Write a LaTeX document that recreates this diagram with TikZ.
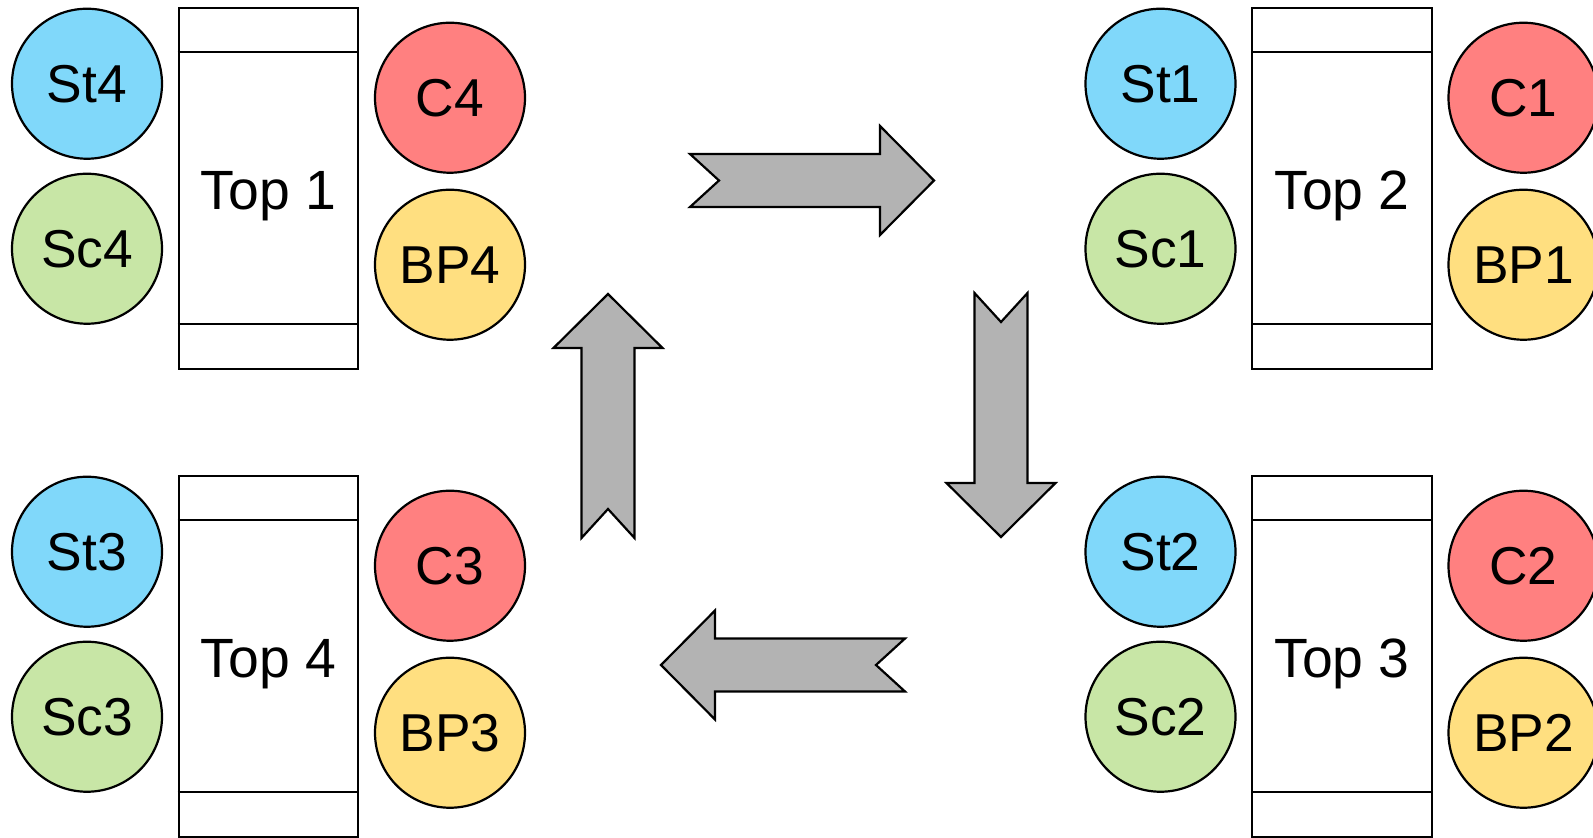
\documentclass[tikz,border=0pt]{standalone}
\usepackage{fontspec}
\setmainfont{Liberation Sans}
\usetikzlibrary{calc}

\definecolor{stblue}{HTML}{80D8FA}
\definecolor{cred}{HTML}{FF8080}
\definecolor{scgreen}{HTML}{C8E6A6}
\definecolor{bpyellow}{HTML}{FFDF80}
\definecolor{flowgray}{HTML}{B3B3B3}

\begin{document}
\begin{tikzpicture}[x=0.75pt,y=-0.75pt,line width=1.65pt,
    ball/.style={circle,draw=black,minimum size=112.5pt,inner sep=0pt,font=\fontsize{40}{44}\selectfont},
    topbox/.style={draw=black,fill=white,minimum width=134.5pt,minimum height=271pt,inner sep=0pt},
    toptext/.style={anchor=base,font=\fontsize{41.5}{45}\selectfont},
    flowarrow/.style={draw=black,fill=flowgray,line join=miter}]

    \useasboundingbox (0,0) rectangle (1593,838);

    %blocks
    \foreach \x/\y/\n/\k in {268.5/188.5/1/4, 1342/188.5/2/1, 1342/656.5/3/2, 268.5/656.5/4/3}{
        \node[topbox] (top\n) at (\x,\y) {};
        \draw ($(top\n.north west)+(0,45)$) -- ($(top\n.north east)+(0,45)$);
        \draw ($(top\n.south west)-(0,46)$) -- ($(top\n.south east)-(0,46)$);
        \node[toptext] (lab\n) at ($(top\n.north)+(0,203)$) {Top \n};
        %circles
        \node[ball,fill=stblue] (st\k) at ($(top\n.north)+(-181.5,77)$) {St\k};
        \node[ball,fill=scgreen] (sc\k) at ($(top\n.north)+(-181.5,242)$) {Sc\k};
        \node[ball,fill=cred] (c\k) at ($(top\n.north)+(181.5,91)$) {C\k};
        \node[ball,fill=bpyellow] (bp\k) at ($(top\n.north)+(181.5,258)$) {BP\k};
    }

    %arrow centers
    \coordinate (A1) at (812,180.5); % right
    \coordinate (A2) at (1001,415);  % down
    \coordinate (A3) at (783,665);   % left
    \coordinate (A4) at (608,416);   % up

    %arrows
    \foreach \a/\ang in {A1/0, A2/-90, A3/180, A4/90}
    \draw[flowarrow,shift={(\a)},rotate=\ang] (-122,26.5) -- (68,26.5) -- (68,54.5) -- (122,0)
        -- (68,-54.5) -- (68,-26.5) -- (-122,-26.5) -- (-93,0) -- cycle;

\end{tikzpicture}
\end{document}
